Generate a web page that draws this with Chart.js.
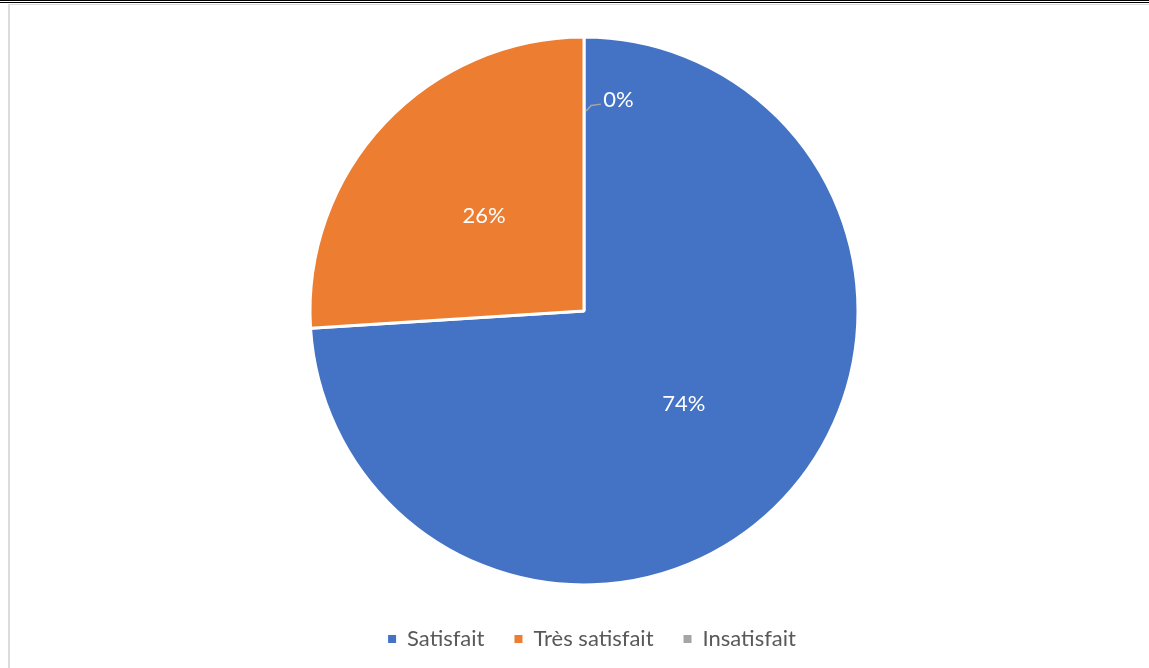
<!DOCTYPE html>
<html lang="fr">
<head>
<meta charset="utf-8">
<title>Satisfaction</title>
<script src="https://cdn.jsdelivr.net/npm/chart.js@4/dist/chart.umd.min.js"></script>
<style>
  html, body { margin: 0; padding: 0; background: #ffffff; }
  #wrap { position: relative; width: 1149px; height: 668px; overflow: hidden; }
  #chart { position: absolute; left: 0; top: 0; }
  .rule { position: absolute; background: #000; left: 0; right: 0; height: 1px; }
  .frame-top { position: absolute; left: 8px; right: 0; top: 4px; height: 1px; background: #d9d9d9; }
  .frame-left { position: absolute; left: 8px; top: 4px; bottom: 0; width: 2px; background: #dcdcdc; }
</style>
</head>
<body>
<div id="wrap">
  <canvas id="chart" width="1149" height="668"></canvas>
  <div class="rule" style="top:0"></div>
  <div class="rule" style="top:2px"></div>
  <div class="frame-top"></div>
  <div class="frame-left"></div>
</div>
<script>
// Répartition des réponses (en %)
const categories = ['Satisfait', 'Très satisfait', 'Insatisfait'];
const values = [74, 26, 0];
const sliceColors = ['#4472C4', '#ED7D31', '#A5A5A5'];

const FONT = 'Lato, "Open Sans", "Liberation Sans", sans-serif';

// Pourcentages écrits sur les parts ; la part nulle reçoit une ligne de rappel
const sliceLabels = {
  id: 'sliceLabels',
  afterDatasetsDraw(chart) {
    const meta = chart.getDatasetMeta(0);
    const data = chart.data.datasets[0].data;
    const total = data.reduce((a, b) => a + b, 0);
    const ctx = chart.ctx;
    ctx.save();
    ctx.fillStyle = '#ffffff';
    ctx.font = '22px ' + FONT;
    ctx.textBaseline = 'middle';
    meta.data.forEach((arc, i) => {
      const pct = Math.round(data[i] / total * 100) + '%';
      if (data[i] > 0) {
        const p = arc.getCenterPoint();
        ctx.textAlign = 'center';
        ctx.fillText(pct, p.x, p.y - 1);
      } else {
        const r = arc.outerRadius;
        const cx = arc.x, cy = arc.y;
        ctx.strokeStyle = '#a6a6a6';
        ctx.lineWidth = 1.5;
        ctx.beginPath();
        ctx.moveTo(cx + 0.008 * r, cy - 0.73 * r);
        ctx.lineTo(cx + 0.026 * r, cy - 0.75 * r);
        ctx.lineTo(cx + 0.062 * r, cy - 0.755 * r);
        ctx.stroke();
        ctx.textAlign = 'left';
        ctx.fillText(pct, cx + 0.07 * r, cy - 0.77 * r);
      }
    });
    ctx.restore();
  }
};

// Légende légèrement décalée vers la droite par rapport au disque
const legendShift = {
  id: 'legendShift',
  afterLayout(chart) {
    const lg = chart.legend;
    if (lg) { lg.left += 8; lg.right += 8; }
  }
};

new Chart(document.getElementById('chart'), {
  type: 'pie',
  data: {
    labels: categories,
    datasets: [{
      data: values,
      backgroundColor: sliceColors,
      borderColor: '#ffffff',
      borderWidth: 3,
      radius: 274,
      clip: false
    }]
  },
  options: {
    responsive: false,
    animation: false,
    layout: { padding: { left: 19, right: 0, top: 24, bottom: 8 } },
    plugins: {
      legend: {
        position: 'bottom',
        labels: {
          boxWidth: 8,
          boxHeight: 8,
          padding: 30,
          color: '#595959',
          font: { family: FONT, size: 22 },
          generateLabels(chart) {
            const ds = chart.data.datasets[0];
            return chart.data.labels.map((label, i) => ({
              text: label,
              fillStyle: ds.backgroundColor[i],
              strokeStyle: ds.backgroundColor[i],
              lineWidth: 0,
              fontColor: '#595959',
              hidden: false,
              index: i
            }));
          }
        }
      },
      tooltip: { enabled: false }
    }
  },
  plugins: [sliceLabels, legendShift]
});
</script>
</body>
</html>
